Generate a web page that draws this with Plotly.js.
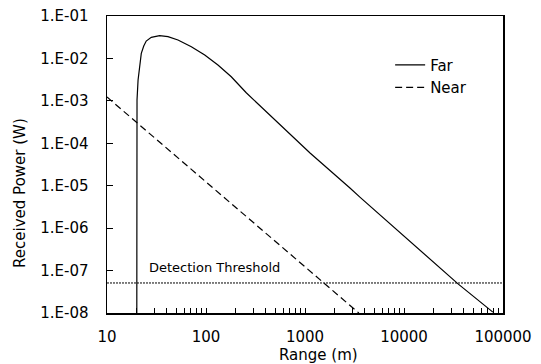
<!DOCTYPE html>
<html>
<head>
<meta charset="utf-8">
<script src="https://cdn.plot.ly/plotly-3.0.1.min.js"></script>
<style>html,body{margin:0;padding:0;background:#fff;}#chart{width:541px;height:364px;}</style>
</head>
<body>
<div id="chart"></div>
<script>
// Far-field curve (range in m, received power in W)
var farRange = [20, 20.1, 20.6, 21.4, 22.2, 23.5, 24.9, 28.0, 34.0, 41.3, 52.1, 71.1, 97.1, 132, 180, 255, 444, 1124, 2845, 3608, 35400, 79000];
var farPower = [1e-8, 1.04e-3, 3.1e-3, 7.7e-3, 1.32e-2, 1.96e-2, 2.57e-2, 3.15e-2, 3.43e-2, 3.25e-2, 2.72e-2, 1.89e-2, 1.2e-2, 6.98e-3, 3.7e-3, 1.55e-3, 4.6e-4, 5.9e-5, 8.8e-6, 5.3e-6, 4.8e-8, 1.05e-8];
// Near-field curve
var nearRange = [10, 3500];
var nearPower = [1.23e-3, 1e-8];
// Detection threshold
var thrRange = [10, 100000];
var thrPower = [5.1e-8, 5.1e-8];

var xMajor = [10, 100, 1000, 10000, 100000];
var xMajorText = ["10", "100", "1000", "10000", "100000"];
var xMinorMult = [2, 3, 4, 5, 6, 7, 8, 9];
var yTickVals = [1e-8, 1e-7, 1e-6, 1e-5, 1e-4, 1e-3, 1e-2, 1e-1];
var yTickText = ["1.E-08", "1.E-07", "1.E-06", "1.E-05", "1.E-04", "1.E-03", "1.E-02", "1.E-01"];

var xTickVals = [], xTickText = [];
for (var i = 0; i < xMajor.length; i++) {
  xTickVals.push(xMajor[i]); xTickText.push(xMajorText[i]);
  if (i < xMajor.length - 1) {
    for (var j = 0; j < xMinorMult.length; j++) {
      xTickVals.push(xMajor[i] * xMinorMult[j]); xTickText.push("");
    }
  }
}

var mainFont = {family: "DejaVu Sans, sans-serif", size: 15, color: "#000"};

var traces = [
  {x: farRange, y: farPower, mode: "lines", name: "Far",
   line: {color: "#000", width: 1.2}},
  {x: nearRange, y: nearPower, mode: "lines", name: "Near",
   line: {color: "#000", width: 1.2, dash: "7px,4px"}},
  {x: thrRange, y: thrPower, mode: "lines", name: "Threshold", showlegend: false,
   line: {color: "#000", width: 1, dash: "2px,1px"}}
];

var layout = {
  width: 541, height: 364,
  margin: {l: 107, r: 38, t: 16, b: 51, pad: 0},
  paper_bgcolor: "#fff", plot_bgcolor: "#fff",
  showlegend: true,
  legend: {x: 0.715, xanchor: "left", y: 0.89, yanchor: "top",
           font: mainFont, bgcolor: "rgba(0,0,0,0)", tracegroupgap: 0, itemwidth: 30},
  xaxis: {type: "log", range: [1, 5], tickvals: xTickVals, ticktext: xTickText,
          ticks: "inside", ticklen: 5, tickwidth: 1, tickcolor: "#000",
          showline: true, linecolor: "#000", linewidth: 1.5, mirror: true,
          showgrid: false, zeroline: false, tickfont: mainFont, ticklabelstandoff: 9},
  yaxis: {type: "log", range: [-8, -1], tickvals: yTickVals, ticktext: yTickText,
          ticks: "inside", ticklen: 6, tickwidth: 1, tickcolor: "#000",
          showline: true, linecolor: "#000", linewidth: 1.5, mirror: true,
          showgrid: false, zeroline: false, tickfont: mainFont, ticklabelstandoff: 14},
  annotations: [
    {text: "Range (m)", xref: "paper", yref: "paper", x: 0.533, y: -0.143,
     xanchor: "center", yanchor: "middle", showarrow: false, font: mainFont},
    {text: "Received Power (W)", xref: "paper", yref: "paper", x: -0.22, y: 0.404,
     xanchor: "center", yanchor: "middle", textangle: -90, showarrow: false, font: mainFont},
    {text: "Detection Threshold", xref: "x", yref: "y", x: Math.log10(25.5), y: Math.log10(1.2e-7),
     xanchor: "left", yanchor: "middle", showarrow: false,
     font: {family: "DejaVu Sans, sans-serif", size: 13, color: "#000"}}
  ]
};

Plotly.newPlot("chart", traces, layout, {displayModeBar: false, staticPlot: true});
</script>
</body>
</html>
